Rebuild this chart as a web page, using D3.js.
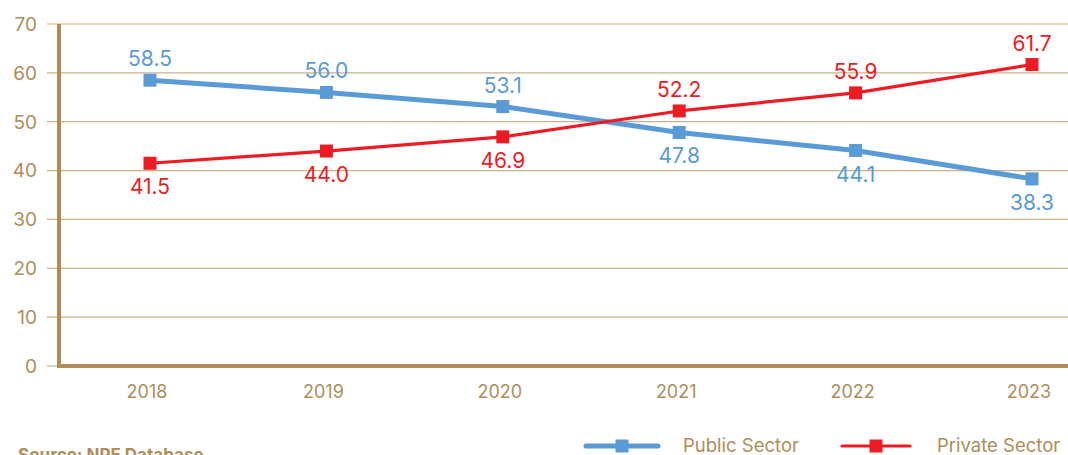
<!DOCTYPE html>
<html>
<head>
<meta charset="utf-8">
<script src="https://cdn.jsdelivr.net/npm/d3@7"></script>
<style>
  html, body { margin: 0; padding: 0; background: #fff; overflow: hidden; }
  svg { display: block; font-family: Inter, "Open Sans", sans-serif; }
</style>
</head>
<body>
<svg id="chart" width="1068" height="455"></svg>
<script>
// data
const years = ["2018", "2019", "2020", "2021", "2022", "2023"];
const publicSector = [58.5, 56.0, 53.1, 47.8, 44.1, 38.3];
const privateSector = [41.5, 44.0, 46.9, 52.2, 55.9, 61.7];
const yTicks = [0, 10, 20, 30, 40, 50, 60, 70];

const TAN = "#b08d57";
const GRID = "#c9b28a";
const BLUE = "#5b9bd5";
const RED = "#ed1c24";

const svg = d3.select("#chart");

const x = d3.scalePoint().domain(years).range([150, 1032]);
const y = d3.scaleLinear().domain([0, 70]).range([366, 24]);
const axisX = 59;

// gridlines + tick stubs
svg.append("g")
  .selectAll("line")
  .data(yTicks.filter((d) => d > 0))
  .join("line")
  .attr("x1", 47)
  .attr("x2", 1068)
  .attr("y1", (d) => y(d))
  .attr("y2", (d) => y(d))
  .attr("stroke", GRID)
  .attr("stroke-width", 1.2);

svg.append("line")
  .attr("x1", 47).attr("x2", axisX)
  .attr("y1", y(0)).attr("y2", y(0))
  .attr("stroke", GRID).attr("stroke-width", 1.2);

// y labels
svg.append("g")
  .selectAll("text")
  .data(yTicks)
  .join("text")
  .attr("x", 37)
  .attr("y", (d) => y(d))
  .attr("dy", "0.36em")
  .attr("text-anchor", "end")
  .attr("fill", TAN)
  .attr("font-size", 19)
  .text((d) => d);

// axes lines (thick)
svg.append("line")
  .attr("x1", axisX).attr("x2", axisX)
  .attr("y1", y(70)).attr("y2", y(0) + 2)
  .attr("stroke", TAN).attr("stroke-width", 4);

svg.append("line")
  .attr("x1", axisX - 2).attr("x2", 1068)
  .attr("y1", y(0)).attr("y2", y(0))
  .attr("stroke", TAN).attr("stroke-width", 4);

// x labels
svg.append("g")
  .selectAll("text")
  .data(years)
  .join("text")
  .attr("x", (d) => x(d) - 3)
  .attr("y", 398)
  .attr("text-anchor", "middle")
  .attr("fill", TAN)
  .attr("font-size", 18)
  .text((d) => d);

const line = d3.line()
  .x((d, i) => x(years[i]))
  .y((d) => y(d));

function drawSeries(values, color, width, above) {
  const g = svg.append("g");
  g.append("path")
    .datum(values)
    .attr("d", line)
    .attr("fill", "none")
    .attr("stroke", color)
    .attr("stroke-width", width)
    .attr("stroke-linejoin", "round");

  g.selectAll("rect")
    .data(values)
    .join("rect")
    .attr("x", (d, i) => x(years[i]) - 6.5)
    .attr("y", (d) => y(d) - 6.5)
    .attr("width", 13)
    .attr("height", 13)
    .attr("fill", color);

  g.selectAll("text")
    .data(values)
    .join("text")
    .attr("x", (d, i) => x(years[i]))
    .attr("y", (d, i) => y(d) + (above(i) ? -14 : 31))
    .attr("text-anchor", "middle")
    .attr("fill", color)
    .attr("font-size", 21)
    .text((d) => d.toFixed(1));
}

drawSeries(publicSector, BLUE, 5, (i) => i < 3);
drawSeries(privateSector, RED, 3.2, (i) => i >= 3);

// legend
const legend = [
  { name: "Public Sector", color: BLUE, w: 5, x0: 586, x1: 658, tx: 683 },
  { name: "Private Sector", color: RED, w: 3.2, x0: 842, x1: 910, tx: 937 },
];
const lg = svg.append("g");
legend.forEach((d) => {
  lg.append("line")
    .attr("x1", d.x0).attr("x2", d.x1)
    .attr("y1", 446).attr("y2", 446)
    .attr("stroke", d.color).attr("stroke-width", d.w)
    .attr("stroke-linecap", "round");
  lg.append("rect")
    .attr("x", (d.x0 + d.x1) / 2 - 6.5).attr("y", 439.5)
    .attr("width", 13).attr("height", 13)
    .attr("fill", d.color);
  lg.append("text")
    .attr("x", d.tx).attr("y", 452)
    .attr("fill", TAN)
    .attr("font-size", 18.5)
    .text(d.name);
});

// source, partly below the bottom edge as in the reference
svg.append("text")
  .attr("x", 18).attr("y", 461)
  .attr("fill", TAN)
  .attr("font-size", 17)
  .attr("font-weight", "bold")
  .text("Source: NPE Database");
</script>
</body>
</html>
